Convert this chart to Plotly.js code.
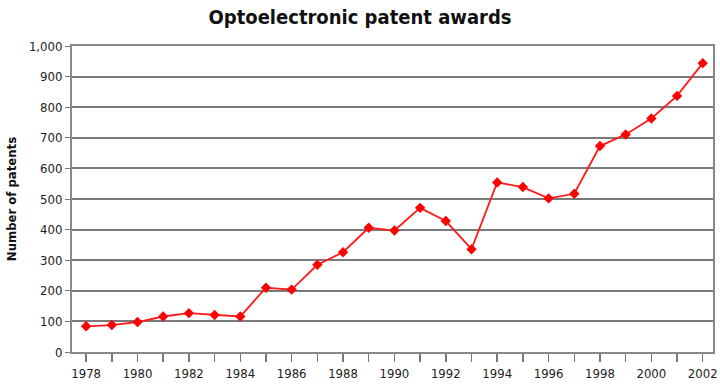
<!DOCTYPE html>
<html>
<head>
<meta charset="utf-8">
<script src="https://cdn.plot.ly/plotly-3.0.1.min.js"></script>
<style>html,body{margin:0;padding:0;background:#fff;}#chart{width:720px;height:385px;}</style>
</head>
<body>
<div id="chart"></div>
<script>
var years = [1978,1979,1980,1981,1982,1983,1984,1985,1986,1987,1988,1989,1990,1991,1992,1993,1994,1995,1996,1997,1998,1999,2000,2001,2002];
var patents = [84,88,98,116,127,121,116,210,204,285,326,406,397,471,428,336,554,539,502,517,673,711,763,837,944];

var fontFam = '"Liberation Sans Narrow", "DejaVu Sans Condensed", "Arial Narrow", sans-serif';

var trace = {
  x: years, y: patents, type: 'scatter', mode: 'lines+markers',
  line: {color: '#ff1a1a', width: 1.8},
  marker: {color: '#ff0000', symbol: 'diamond', size: 8},
  hoverinfo: 'x+y'
};

var layout = {
  width: 720, height: 385,
  margin: {l: 72, r: 7, t: 46, b: 33},
  paper_bgcolor: '#fff', plot_bgcolor: '#fff',
  showlegend: false,
  title: {text: '<b>Optoelectronic patent awards</b>', x: 0.5, xanchor: 'center', y: 0.955, yanchor: 'middle',
          font: {family: fontFam, size: 20, color: '#111'}},
  xaxis: {
    range: [1977.45, 2002.4], dtick: 2, tick0: 1978,
    ticks: 'outside', ticklen: 8, tickcolor: '#777', tickwidth: 1.5,
    minor: {dtick: 1, ticks: 'outside', ticklen: 8, tickcolor: '#777', tickwidth: 1.5, showgrid: false},
    showgrid: false, zeroline: false,
    showline: true, linecolor: '#888', linewidth: 2, mirror: true,
    tickfont: {family: fontFam, size: 13, color: '#222'}
  },
  yaxis: {
    range: [0, 1000], dtick: 100, tickformat: ',',
    ticks: 'outside', ticklen: 5, tickcolor: '#777',
    showgrid: true, gridcolor: '#7a7a7a', gridwidth: 2,
    zeroline: false,
    showline: true, linecolor: '#888', linewidth: 2, mirror: true,
    tickfont: {family: fontFam, size: 13, color: '#222'},
    title: {text: '<b>Number of patents</b>', standoff: 9, font: {family: fontFam, size: 13, color: '#111'}}
  }
};

Plotly.newPlot('chart', [trace], layout, {displayModeBar: false, staticPlot: true});
</script>
</body>
</html>
